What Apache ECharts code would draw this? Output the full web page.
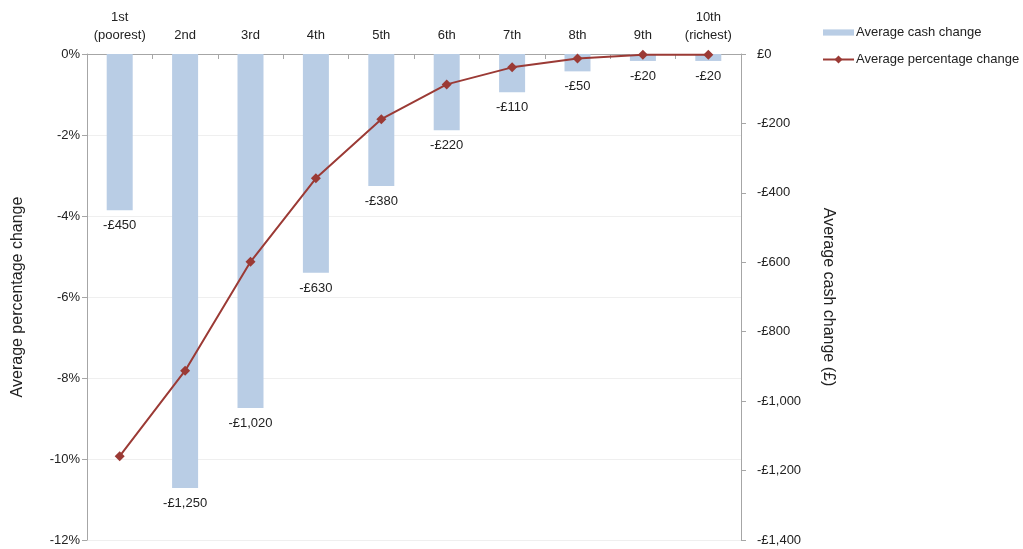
<!DOCTYPE html>
<html>
<head>
<meta charset="utf-8">
<script src="https://cdn.jsdelivr.net/npm/echarts@6/dist/echarts.min.js"></script>
<style>html,body{margin:0;padding:0;background:#fff}#c{width:1023px;height:549px}</style>
</head>
<body>
<div id="c"></div>
<script>
const categories = ['1st\n(poorest)', '2nd', '3rd', '4th', '5th', '6th', '7th', '8th', '9th', '10th\n(richest)'];
const cashChange = [-450, -1250, -1020, -630, -380, -220, -110, -50, -20, -20];
const pctChange = [-9.93, -7.82, -5.13, -3.07, -1.61, -0.75, -0.33, -0.11, -0.02, -0.02];
const pctTicks = { min: -12, max: 0, interval: 2 };
const cashTicks = { min: -1400, max: 0, interval: 200 };

function fmtCash(v) {
  const a = Math.abs(v).toLocaleString('en-GB');
  return (v < 0 ? '-£' : '£') + a;
}
const font = "'Liberation Sans', Arial, sans-serif";
const txt = '#222';
const axisGray = '#a6a6a6';

const chart = echarts.init(document.getElementById('c'), null, { renderer: 'canvas' });
chart.setOption({
  animation: false,
  textStyle: { fontFamily: font },
  legend: {
    orient: 'vertical',
    left: 817, top: 21,
    itemGap: 14,
    itemWidth: 31, itemHeight: 10,
    textStyle: { fontFamily: font, fontSize: 13, color: txt, padding: [0, 0, 0, -3] },
    data: [
      { name: 'Average cash change', icon: 'path://M0,2h30v6h-30z' },
      { name: 'Average percentage change' }
    ]
  },
  grid: { left: 87, right: 282, top: 54, bottom: 9, outerBoundsMode: 'none', containLabel: false },
  xAxis: {
    type: 'category',
    position: 'top',
    data: categories,
    axisLine: { show: true, lineStyle: { color: axisGray } },
    axisTick: { show: true, inside: true, length: 5, lineStyle: { color: axisGray } },
    axisLabel: { fontFamily: font, fontSize: 13, color: txt, margin: 10, lineHeight: 18, interval: 0 }
  },
  yAxis: [
    {
      type: 'value',
      min: pctTicks.min, max: pctTicks.max, interval: pctTicks.interval,
      name: 'Average percentage change',
      nameLocation: 'middle', nameGap: 61, nameRotate: 90,
      nameTextStyle: { fontFamily: font, fontSize: 16, color: txt },
      axisLine: { show: true, lineStyle: { color: axisGray } },
      axisTick: { show: true, length: 5, lineStyle: { color: axisGray } },
      axisLabel: { fontFamily: font, fontSize: 13, color: txt, margin: 7, formatter: v => v + '%' },
      splitLine: { show: true, lineStyle: { color: '#efefef' } }
    },
    {
      type: 'value',
      position: 'right',
      min: cashTicks.min, max: cashTicks.max, interval: cashTicks.interval,
      name: 'Average cash change (£)',
      nameLocation: 'middle', nameGap: 79, nameRotate: -90,
      nameTextStyle: { fontFamily: font, fontSize: 16, color: txt },
      axisLine: { show: true, lineStyle: { color: axisGray } },
      axisTick: { show: true, length: 5, lineStyle: { color: axisGray } },
      axisLabel: { fontFamily: font, fontSize: 13, color: txt, margin: 16, formatter: fmtCash },
      splitLine: { show: false }
    }
  ],
  series: [
    {
      name: 'Average cash change',
      type: 'bar',
      yAxisIndex: 1,
      data: cashChange,
      barWidth: 26,
      itemStyle: { color: '#b9cde5' },
      label: {
        show: true, position: 'bottom', distance: 9,
        fontFamily: font, fontSize: 13, color: txt,
        formatter: p => fmtCash(p.value)
      },
      z: 1
    },
    {
      name: 'Average percentage change',
      type: 'line',
      yAxisIndex: 0,
      data: pctChange,
      symbol: 'diamond',
      symbolSize: 10,
      lineStyle: { color: '#9b3a35', width: 2 },
      itemStyle: { color: '#9b3a35' },
      z: 3
    }
  ]
});
</script>
</body>
</html>
